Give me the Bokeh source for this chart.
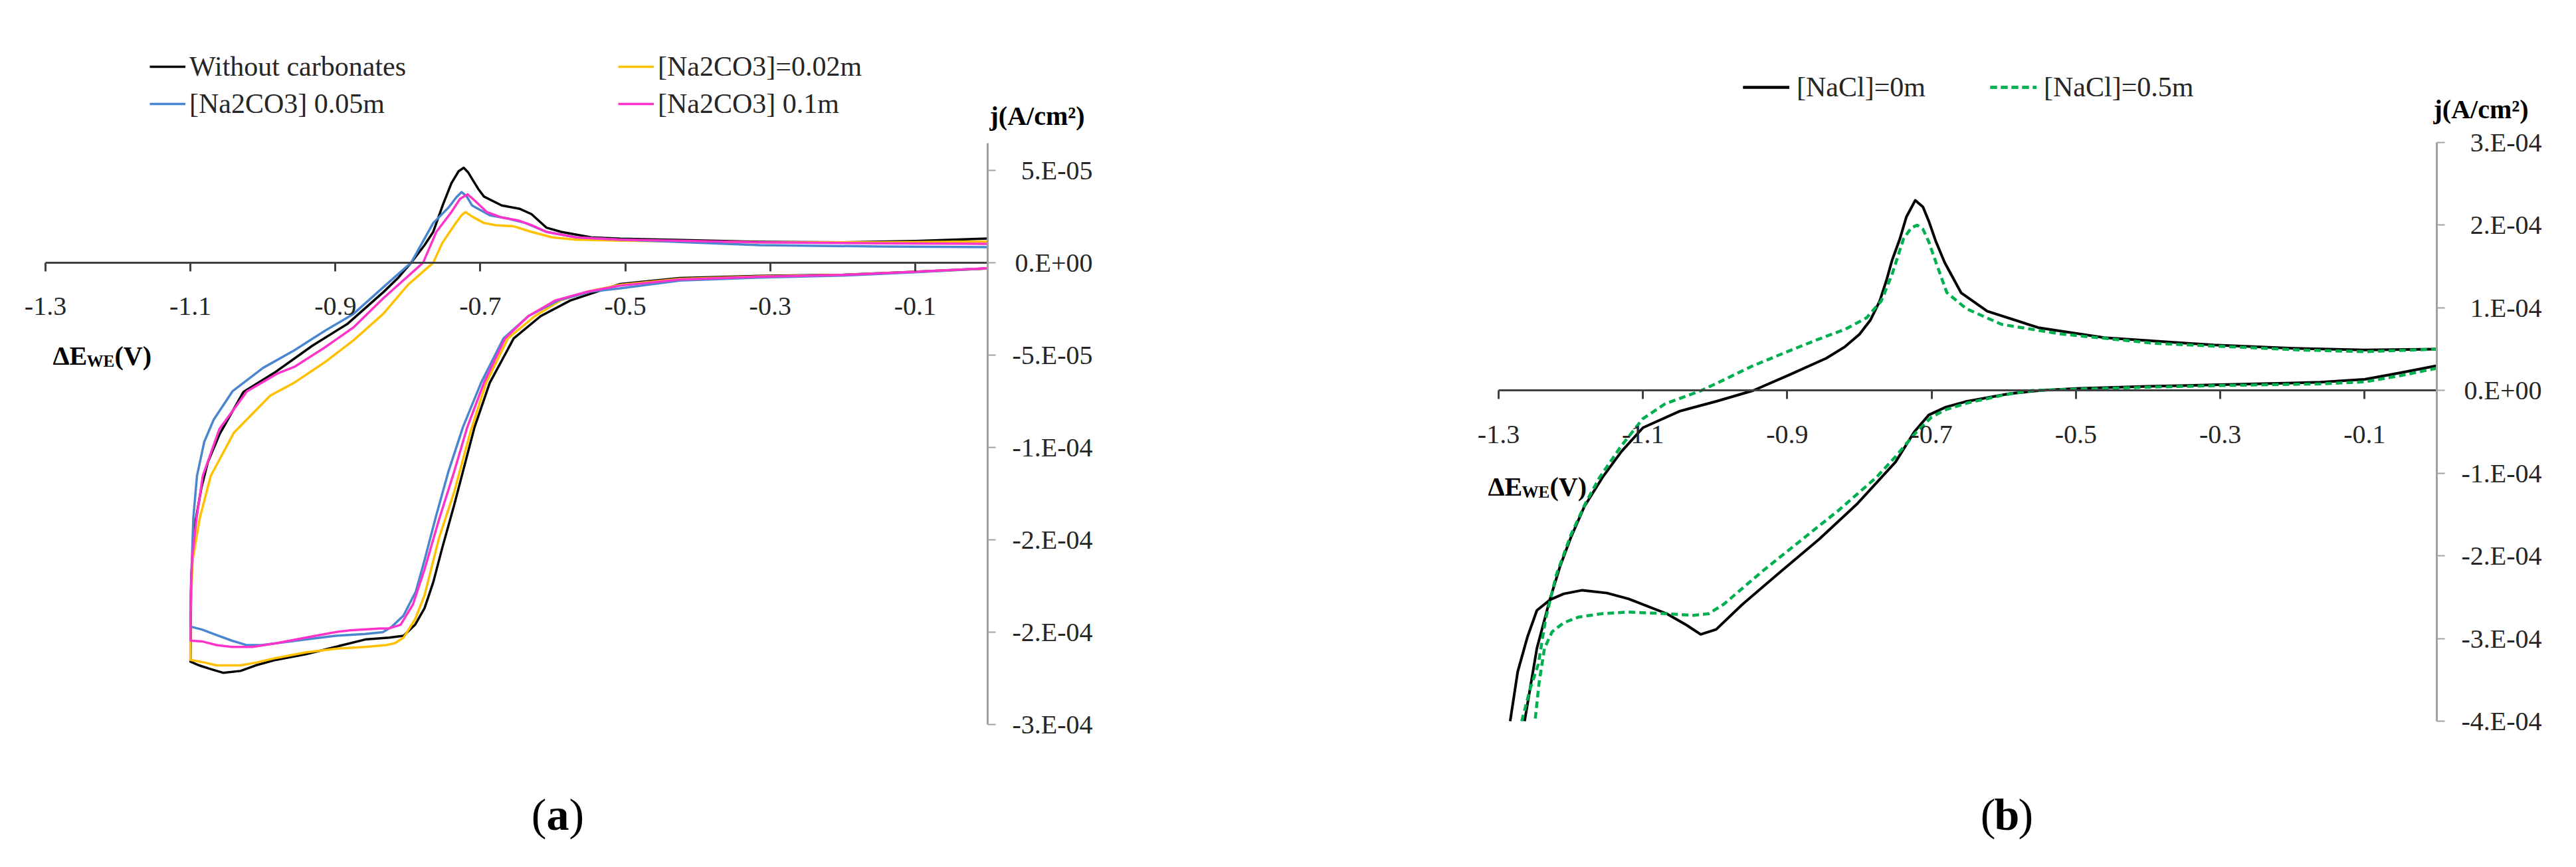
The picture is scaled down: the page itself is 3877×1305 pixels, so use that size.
from bokeh.plotting import figure
from bokeh.models import Range1d, FixedTicker, Label, Legend, LegendItem
from bokeh.layouts import row
from bokeh.embed import file_html
from bokeh.resources import INLINE

# ---------------- data: panel (a) ----------------
a_x_ticks = [-1.3, -1.1, -0.9, -0.7, -0.5, -0.3, -0.1]
a_x_labels = ["-1.3", "-1.1", "-0.9", "-0.7", "-0.5", "-0.3", "-0.1"]
a_y_ticks = [5e-5, 0.0, -5e-5, -1e-4, -1.5e-4, -2e-4, -2.5e-4]
a_y_labels = ["5.E-05", "0.E+00", "-5.E-05", "-1.E-04", "-2.E-04", "-2.E-04", "-3.E-04"]
a_y_bounds = (-2.5e-4, 6.47e-5)
a_names = ["Without carbonates", "[Na2CO3]=0.02m", "[Na2CO3] 0.05m", "[Na2CO3] 0.1m"]

# (E [V], j [A/cm2]) along the cycle
a_without = [(0.0, -3.1e-6), (-0.10, -4.9e-6), (-0.20, -6.5e-6), (-0.315, -7.1e-6), (-0.425, -8.3e-6),
             (-0.507, -1.15e-5), (-0.576, -2.05e-5), (-0.617, -2.9e-5), (-0.654, -4.1e-5), (-0.687, -6.5e-5),
             (-0.708, -8.9e-5), (-0.720, -1.07e-4), (-0.736, -1.31e-4), (-0.753, -1.55e-4), (-0.765, -1.73e-4),
             (-0.777, -1.87e-4), (-0.790, -1.96e-4), (-0.806, -2.02e-4), (-0.826, -2.03e-4), (-0.859, -2.04e-4),
             (-0.900, -2.08e-4), (-0.941, -2.12e-4), (-0.982, -2.15e-4), (-1.010, -2.18e-4), (-1.031, -2.21e-4),
             (-1.055, -2.22e-4), (-1.072, -2.20e-4), (-1.088, -2.18e-4), (-1.100, -2.16e-4),
             (-1.099, -1.70e-4), (-1.093, -1.40e-4), (-1.085, -1.22e-4), (-1.076, -1.08e-4), (-1.060, -9.3e-5),
             (-1.027, -7.0e-5), (-0.982, -5.9e-5), (-0.957, -5.2e-5), (-0.932, -4.5e-5), (-0.883, -3.3e-5),
             (-0.834, -1.6e-5), (-0.813, -8.0e-6), (-0.7955, 0.0), (-0.777, 9.5e-6), (-0.765, 1.67e-5),
             (-0.752, 3.1e-5), (-0.740, 4.3e-5), (-0.730, 4.95e-5), (-0.723, 5.14e-5), (-0.717, 4.9e-5),
             (-0.7115, 4.54e-5), (-0.703, 4.0e-5), (-0.695, 3.58e-5), (-0.6705, 3.1e-5), (-0.646, 2.92e-5),
             (-0.6295, 2.63e-5), (-0.609, 1.9e-5), (-0.5885, 1.67e-5), (-0.547, 1.37e-5), (-0.5066, 1.3e-5),
             (-0.445, 1.25e-5), (-0.315, 1.13e-5), (-0.20, 1.1e-5), (-0.10, 1.17e-5), (0.0, 1.31e-5)]

a_002 = [(0.0, -3.2e-6), (-0.1, -5.0e-6), (-0.2, -6.6e-6), (-0.315, -7.4e-6), (-0.425, -8.8e-6),
         (-0.507, -1.2e-5), (-0.55, -1.55e-5), (-0.59, -2.05e-5), (-0.625, -2.9e-5), (-0.662, -4.1e-5),
         (-0.692, -6.5e-5), (-0.714, -9.2e-5), (-0.736, -1.24e-4), (-0.757, -1.49e-4), (-0.777, -1.80e-4),
         (-0.790, -1.93e-4), (-0.806, -2.03e-4), (-0.818, -2.06e-4), (-0.830, -2.07e-4), (-0.859, -2.08e-4),
         (-0.900, -2.09e-4), (-0.941, -2.11e-4), (-0.982, -2.14e-4), (-1.010, -2.165e-4), (-1.031, -2.18e-4),
         (-1.064, -2.18e-4), (-1.080, -2.165e-4), (-1.100, -2.15e-4),
         (-1.100, -1.90e-4), (-1.097, -1.61e-4), (-1.087, -1.38e-4), (-1.072, -1.154e-4), (-1.040, -9.2e-5),
         (-0.99, -7.2e-5), (-0.957, -6.5e-5), (-0.915, -5.4e-5), (-0.875, -4.2e-5), (-0.834, -2.77e-5),
         (-0.800, -1.2e-5), (-0.765, 0.0), (-0.7525, 1.07e-5), (-0.736, 2.03e-5), (-0.726, 2.57e-5),
         (-0.7205, 2.74e-5), (-0.7115, 2.5e-5), (-0.695, 2.15e-5), (-0.679, 2.03e-5), (-0.654, 1.97e-5),
         (-0.6295, 1.67e-5), (-0.601, 1.37e-5), (-0.568, 1.25e-5), (-0.507, 1.19e-5), (-0.315, 1.1e-5),
         (-0.15, 1.1e-5), (0.0, 1.15e-5)]

a_005 = [(0.0, -3.1e-6), (-0.1, -5.2e-6), (-0.2, -7.0e-6), (-0.315, -8.0e-6), (-0.425, -9.7e-6),
         (-0.507, -1.39e-5), (-0.548, -1.57e-5), (-0.593, -2.05e-5), (-0.634, -2.9e-5), (-0.668, -4.1e-5),
         (-0.699, -6.5e-5), (-0.724, -8.9e-5), (-0.744, -1.13e-4), (-0.761, -1.37e-4), (-0.777, -1.61e-4),
         (-0.789, -1.78e-4), (-0.806, -1.91e-4), (-0.822, -1.97e-4), (-0.8345, -2.0e-4), (-0.859, -2.01e-4),
         (-0.900, -2.02e-4), (-0.941, -2.04e-4), (-0.982, -2.06e-4), (-1.002, -2.07e-4), (-1.023, -2.07e-4),
         (-1.043, -2.046e-4), (-1.064, -2.016e-4), (-1.084, -1.986e-4), (-1.100, -1.97e-4),
         (-1.100, -1.85e-4), (-1.098, -1.61e-4), (-1.096, -1.38e-4), (-1.091, -1.154e-4), (-1.081, -9.7e-5),
         (-1.068, -8.5e-5), (-1.042, -6.96e-5), (-1.0, -5.7e-5), (-0.957, -4.75e-5), (-0.915, -3.7e-5),
         (-0.875, -2.77e-5), (-0.834, -1.33e-5), (-0.7955, 0.0), (-0.765, 2.15e-5), (-0.744, 2.98e-5),
         (-0.733, 3.55e-5), (-0.726, 3.82e-5), (-0.719, 3.6e-5), (-0.7115, 3.1e-5), (-0.687, 2.57e-5),
         (-0.662, 2.39e-5), (-0.638, 2.15e-5), (-0.609, 1.67e-5), (-0.568, 1.37e-5), (-0.507, 1.25e-5),
         (-0.315, 9.5e-6), (-0.15, 8.8e-6), (0.0, 8.4e-6)]

a_01 = [(0.0, -3.0e-6), (-0.1, -4.9e-6), (-0.2, -6.6e-6), (-0.315, -7.6e-6), (-0.425, -9.1e-6),
        (-0.507, -1.24e-5), (-0.552, -1.57e-5), (-0.597, -2.05e-5), (-0.634, -2.9e-5), (-0.666, -4.1e-5),
        (-0.695, -6.5e-5), (-0.718, -8.9e-5), (-0.736, -1.13e-4), (-0.757, -1.39e-4), (-0.777, -1.66e-4),
        (-0.793, -1.85e-4), (-0.810, -1.96e-4), (-0.826, -1.98e-4), (-0.8385, -1.98e-4), (-0.8795, -1.99e-4),
        (-0.900, -2.0e-4), (-0.941, -2.03e-4), (-0.982, -2.06e-4), (-1.0145, -2.08e-4), (-1.043, -2.08e-4),
        (-1.064, -2.07e-4), (-1.084, -2.05e-4), (-1.100, -2.046e-4),
        (-1.100, -1.90e-4), (-1.098, -1.61e-4), (-1.0915, -1.38e-4), (-1.083, -1.154e-4), (-1.060, -9.0e-5),
        (-1.022, -6.96e-5), (-0.98, -6.0e-5), (-0.957, -5.65e-5), (-0.915, -4.6e-5), (-0.875, -3.5e-5),
        (-0.834, -1.93e-5), (-0.779, 0.0), (-0.7607, 1.67e-5), (-0.740, 2.74e-5), (-0.728, 3.46e-5),
        (-0.7176, 3.7e-5), (-0.7074, 3.35e-5), (-0.691, 2.74e-5), (-0.6705, 2.45e-5), (-0.646, 2.27e-5),
        (-0.6295, 2.03e-5), (-0.609, 1.67e-5), (-0.568, 1.37e-5), (-0.507, 1.25e-5), (-0.315, 1.1e-5),
        (-0.15, 1.05e-5), (0.0, 1.02e-5)]

# ---------------- data: panel (b) ----------------
b_x_ticks = [-1.3, -1.1, -0.9, -0.7, -0.5, -0.3, -0.1]
b_x_labels = ["-1.3", "-1.1", "-0.9", "-0.7", "-0.5", "-0.3", "-0.1"]
b_y_ticks = [3e-4, 2e-4, 1e-4, 0.0, -1e-4, -2e-4, -3e-4, -4e-4]
b_y_labels = ["3.E-04", "2.E-04", "1.E-04", "0.E+00", "-1.E-04", "-2.E-04", "-3.E-04", "-4.E-04"]
b_y_bounds = (-4e-4, 3e-4)
b_names = ["[NaCl]=0m", "[NaCl]=0.5m"]

b_nacl0_cath = [(0.0, 3.0e-5), (-0.05, 2.15e-5), (-0.1, 1.35e-5), (-0.161, 1.0e-5), (-0.2, 9.0e-6),
                (-0.3, 7.0e-6), (-0.4, 5.0e-6), (-0.5, 2.5e-6), (-0.55, 0.0), (-0.592, -3.8e-6),
                (-0.653, -1.35e-5), (-0.680, -2.0e-5), (-0.704, -2.96e-5), (-0.724, -5.0e-5), (-0.750, -8.65e-5),
                (-0.803, -1.37e-4), (-0.856, -1.80e-4), (-0.909, -2.19e-4), (-0.962, -2.585e-4), (-0.9985, -2.89e-4),
                (-1.020, -2.95e-4), (-1.041, -2.83e-4), (-1.067, -2.70e-4), (-1.120, -2.52e-4), (-1.150, -2.45e-4),
                (-1.184, -2.416e-4), (-1.210, -2.46e-4), (-1.2285, -2.53e-4), (-1.247, -2.66e-4), (-1.260, -2.98e-4),
                (-1.2735, -3.4e-4), (-1.284, -4.0e-4)]
b_nacl0_anod = [(-1.264, -4.0e-4), (-1.247, -3.12e-4), (-1.229, -2.53e-4), (-1.215, -2.13e-4), (-1.200, -1.78e-4),
                (-1.181, -1.40e-4), (-1.156, -1.05e-4), (-1.130, -7.4e-5), (-1.100, -4.5e-5), (-1.049, -2.5e-5),
                (-0.998, -1.3e-5), (-0.947, 0.0), (-0.897, 1.9e-5), (-0.846, 3.9e-5), (-0.820, 5.3e-5),
                (-0.800, 6.8e-5), (-0.785, 8.5e-5), (-0.772, 1.08e-4), (-0.762, 1.35e-4), (-0.755, 1.57e-4),
                (-0.744, 1.835e-4), (-0.735, 2.1e-4), (-0.7227, 2.30e-4), (-0.712, 2.22e-4), (-0.704, 2.05e-4),
                (-0.694, 1.8e-4), (-0.682, 1.55e-4), (-0.659, 1.18e-4), (-0.623, 9.6e-5), (-0.552, 7.6e-5),
                (-0.461, 6.4e-5), (-0.309, 5.5e-5), (-0.2, 5.1e-5), (-0.1, 4.9e-5), (0.0, 5.0e-5)]
b_nacl05_cath = [(0.0, 2.7e-5), (-0.05, 1.8e-5), (-0.1, 1.05e-5), (-0.161, 8.0e-6), (-0.2, 7.5e-6),
                 (-0.3, 6.0e-6), (-0.4, 4.0e-6), (-0.5, 1.6e-6), (-0.56, 0.0), (-0.6, -5.4e-6),
                 (-0.65, -1.5e-5), (-0.68, -2.3e-5), (-0.70, -3.2e-5), (-0.724, -5.3e-5), (-0.750, -8.0e-5),
                 (-0.7765, -1.05e-4), (-0.829, -1.45e-4), (-0.882, -1.82e-4), (-0.935, -2.19e-4), (-0.988, -2.585e-4),
                 (-1.009, -2.70e-4), (-1.030, -2.72e-4), (-1.067, -2.70e-4), (-1.120, -2.68e-4), (-1.157, -2.70e-4),
                 (-1.189, -2.74e-4), (-1.210, -2.81e-4), (-1.226, -2.92e-4), (-1.2365, -3.12e-4), (-1.244, -3.54e-4),
                 (-1.2496, -4.0e-4)]
b_nacl05_anod = [(-1.268, -4.0e-4), (-1.256, -3.6e-4), (-1.245, -3.31e-4), (-1.235, -2.77e-4), (-1.220, -2.23e-4),
                 (-1.200, -1.75e-4), (-1.180, -1.37e-4), (-1.160, -1.05e-4), (-1.130, -6.7e-5), (-1.100, -3.4e-5),
                 (-1.069, -1.6e-5), (-1.019, 0.0), (-0.99, 1.2e-5), (-0.95, 2.9e-5), (-0.90, 4.7e-5),
                 (-0.86, 6.1e-5), (-0.82, 7.4e-5), (-0.79, 8.8e-5), (-0.77, 1.08e-4), (-0.755, 1.4e-4),
                 (-0.739, 1.835e-4), (-0.728, 1.97e-4), (-0.720, 2.0e-4), (-0.712, 1.95e-4), (-0.704, 1.8e-4),
                 (-0.694, 1.55e-4), (-0.679, 1.185e-4), (-0.652, 9.9e-5), (-0.603, 8.0e-5), (-0.522, 6.85e-5),
                 (-0.390, 5.7e-5), (-0.187, 4.9e-5), (-0.1, 4.7e-5), (0.0, 5.0e-5)]

# ---------------- styling / layout ----------------
FONT = "Liberation Serif"
TICK_COLOR = "#262626"
PAGE_H = 1297
MB = 30  # border of every figure; everything else lives inside the frame


def xy(pairs):
    return [p[0] for p in pairs], [p[1] for p in pairs]


class Panel:
    """Maps page pixels to data for one figure whose frame is its canvas minus MB."""

    def __init__(self, fig_left, fig_width, px_m13, px_0, py_top, py_bot, y_top, y_bot):
        self.fig_left = fig_left
        self.fig_width = fig_width
        self.kx = 1.3 / (px_0 - px_m13)
        self.ky = (y_top - y_bot) / (py_bot - py_top)
        self.px_m13 = px_m13
        self.py_top = py_top
        self.y_top = y_top
        self.frame_left = fig_left + MB
        self.frame_right = fig_left + fig_width - MB
        self.frame_top = MB
        self.frame_bot = PAGE_H - MB

    def X(self, px):
        return -1.3 + (px - self.px_m13) * self.kx

    def Y(self, py):
        return self.y_top - (py - self.py_top) * self.ky

    def xr(self):
        return Range1d(self.X(self.frame_left), self.X(self.frame_right))

    def yr(self):
        return Range1d(self.Y(self.frame_bot), self.Y(self.frame_top))


def make_fig(pn, xticks, xlabels, yticks, ylabels, ybounds):
    p = figure(width=pn.fig_width, height=PAGE_H, x_range=pn.xr(), y_range=pn.yr(),
               x_axis_location="above", y_axis_location="left",
               output_backend="svg", toolbar_location=None,
               min_border_left=MB, min_border_right=MB, min_border_top=MB, min_border_bottom=MB)
    p.outline_line_color = None
    p.grid.visible = False
    p.background_fill_color = "white"
    p.border_fill_color = "white"

    # x axis crossing at j = 0, ticks pointing down, labels under the line
    xa = p.xaxis[0]
    xa.fixed_location = 0
    xa.bounds = (-1.3, 0.0)
    xa.ticker = FixedTicker(ticks=xticks)
    xa.major_label_overrides = dict(zip(xticks, xlabels))
    xa.axis_line_color = "#404040"
    xa.axis_line_width = 3
    xa.major_tick_line_color = "#404040"
    xa.major_tick_line_width = 3
    xa.major_tick_out = 0
    xa.major_tick_in = 13
    xa.minor_tick_line_color = None
    xa.major_label_text_font = FONT
    xa.major_label_text_font_size = "40px"
    xa.major_label_text_color = TICK_COLOR
    xa.major_label_standoff = -79

    # y axis at E = 0, ticks and labels to its right
    ya = p.yaxis[0]
    ya.fixed_location = 0
    ya.bounds = ybounds
    ya.ticker = FixedTicker(ticks=yticks)
    ya.major_label_overrides = dict(zip(yticks, ylabels))
    ya.axis_line_color = "#a0a0a0"
    ya.axis_line_width = 3
    ya.major_tick_line_color = "#a0a0a0"
    ya.major_tick_line_width = 2
    ya.major_tick_out = 0
    ya.major_tick_in = 12
    ya.minor_tick_line_color = None
    ya.major_label_text_font = FONT
    ya.major_label_text_font_size = "40px"
    ya.major_label_text_color = TICK_COLOR
    ya.major_label_standoff = -158
    return p


def lab(p, x, y, text, size, bold=False, align="left", baseline="middle"):
    p.add_layout(Label(x=x, y=y, text=text, text_font=FONT, text_font_size=size,
                       text_font_style="bold" if bold else "normal", text_color="#000000",
                       text_align=align, text_baseline=baseline))


def add_texts(p, pn, ytitle_px, ytitle_py, de_px, de_py, tag, tag_px, tag_py):
    lab(p, pn.X(ytitle_px), pn.Y(ytitle_py), "j(A/cm²)", "40px", bold=True)
    lab(p, pn.X(de_px), pn.Y(de_py), "ΔE", "40px", bold=True, baseline="alphabetic")
    lab(p, pn.X(de_px + 51), pn.Y(de_py + 8), "WE", "25px", bold=True, baseline="alphabetic")
    lab(p, pn.X(de_px + 93), pn.Y(de_py), "(V)", "40px", bold=True, baseline="alphabetic")
    lab(p, pn.X(tag_px - 17), pn.Y(tag_py), "(", "68px", align="right")
    lab(p, pn.X(tag_px), pn.Y(tag_py), tag, "68px", bold=True, align="center")
    lab(p, pn.X(tag_px + 17), pn.Y(tag_py), ")", "68px", align="left")


# ---------------- panel (a) ----------------
PA = Panel(fig_left=0, fig_width=1736, px_m13=68, px_0=1486, py_top=215, py_bot=1090,
           y_top=a_y_bounds[1], y_bot=a_y_bounds[0])
pa = make_fig(PA, a_x_ticks, a_x_labels, a_y_ticks, a_y_labels, a_y_bounds)

a_series = [a_without, a_002, a_005, a_01]
a_colors = ["#000000", "#FFC000", "#4A86D0", "#FF33CC"]
a_renderers = []
for data, col in zip(a_series, a_colors):
    ex, jy = xy(data)
    a_renderers.append(pa.line(ex, jy, line_color=col, line_width=3.5, line_join="round"))

leg_a = Legend(items=[LegendItem(label=n, renderers=[r]) for n, r in zip(a_names, a_renderers)],
               location=(225 - PA.frame_left, PA.frame_bot - 181), orientation="horizontal", ncols=2,
               glyph_width=54, glyph_height=50, label_height=50, label_width=639, label_standoff=6,
               spacing=6, padding=0, margin=0, border_line_color=None, background_fill_alpha=0,
               label_text_font=FONT, label_text_font_size="42px", label_text_color="#262626")
pa.add_layout(leg_a)
add_texts(pa, PA, ytitle_px=1489, ytitle_py=174, de_px=79, de_py=535, tag="a", tag_px=839, tag_py=1225)

# ---------------- panel (b) ----------------
PB = Panel(fig_left=1736, fig_width=2131, px_m13=2255, px_0=3667, py_top=214, py_bot=1085,
           y_top=b_y_bounds[1], y_bot=b_y_bounds[0])
pb = make_fig(PB, b_x_ticks, b_x_labels, b_y_ticks, b_y_labels, b_y_bounds)

cx, cy = xy(b_nacl0_cath)
ax_, ay_ = xy(b_nacl0_anod)
rb0 = pb.line(cx, cy, line_color="#000000", line_width=4, line_join="round")
rb0b = pb.line(ax_, ay_, line_color="#000000", line_width=4, line_join="round")
cx, cy = xy(b_nacl05_cath)
ax_, ay_ = xy(b_nacl05_anod)
rb1 = pb.line(cx, cy, line_color="#00B050", line_width=4.5, line_dash="10 6")
rb1b = pb.line(ax_, ay_, line_color="#00B050", line_width=4.5, line_dash="10 6")

leg_b = Legend(items=[LegendItem(label=b_names[0], renderers=[rb0, rb0b]),
                      LegendItem(label=b_names[1], renderers=[rb1, rb1b])],
               location=(2623 - PB.frame_left, PB.frame_bot - 156), orientation="horizontal",
               glyph_width=70, glyph_height=50, label_height=50, label_width=271, label_standoff=11,
               spacing=20, padding=0, margin=0, border_line_color=None, background_fill_alpha=0,
               label_text_font=FONT, label_text_font_size="42px", label_text_color="#262626")
pb.add_layout(leg_b)
add_texts(pb, PB, ytitle_px=3662, ytitle_py=164, de_px=2239, de_py=732, tag="b", tag_px=3020, tag_py=1225)

layout = row(pa, pb)
open("out.html", "w").write(file_html(layout, INLINE))
